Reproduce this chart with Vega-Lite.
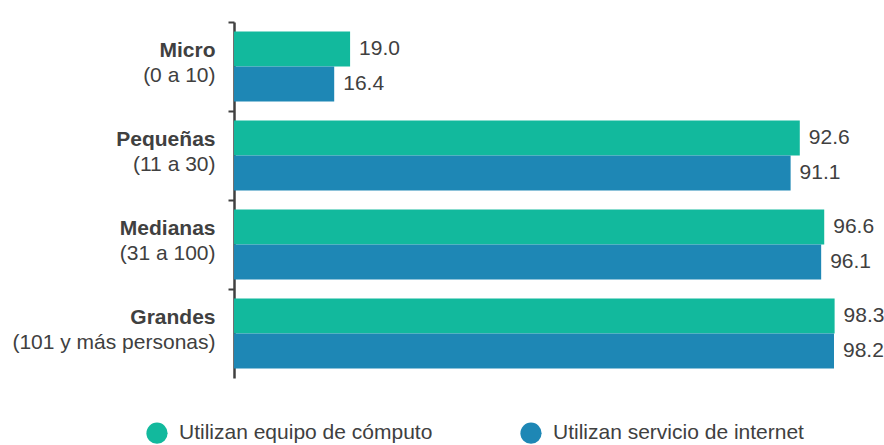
{
  "$schema": "https://vega.github.io/schema/vega-lite/v6.json",
  "width": 611,
  "height": 356,
  "padding": {"left": 11, "top": 21, "right": 5, "bottom": 5},
  "config": {"view": {"stroke": null}, "font": "Liberation Sans"},
  "data": {
    "values": [
      {"tamano": "Micro", "serie": "Utilizan equipo de cómputo", "valor": 19.0},
      {"tamano": "Micro", "serie": "Utilizan servicio de internet", "valor": 16.4},
      {"tamano": "Pequeñas", "serie": "Utilizan equipo de cómputo", "valor": 92.6},
      {"tamano": "Pequeñas", "serie": "Utilizan servicio de internet", "valor": 91.1},
      {"tamano": "Medianas", "serie": "Utilizan equipo de cómputo", "valor": 96.6},
      {"tamano": "Medianas", "serie": "Utilizan servicio de internet", "valor": 96.1},
      {"tamano": "Grandes", "serie": "Utilizan equipo de cómputo", "valor": 98.3},
      {"tamano": "Grandes", "serie": "Utilizan servicio de internet", "valor": 98.2}
    ]
  },
  "layer": [
    {
      "mark": {"type": "bar"},
      "encoding": {
        "y": {
          "field": "tamano", "type": "nominal",
          "sort": ["Micro", "Pequeñas", "Medianas", "Grandes"],
          "scale": {"paddingInner": 0, "paddingOuter": 0},
          "axis": {
            "orient": "left", "title": null, "bandPosition": 0,
            "tickSize": 6, "tickWidth": 2, "tickColor": "#404040",
            "domainColor": "#404040", "domainWidth": 2.5,
            "labelFontWeight": "bold", "labelFontSize": 21, "labelColor": "#404040",
            "labelOffset": -15.5, "labelPadding": 13, "labelLimit": 0
          }
        },
        "yOffset": {
          "field": "serie", "type": "nominal",
          "sort": ["Utilizan equipo de cómputo", "Utilizan servicio de internet"],
          "scale": {"paddingInner": 0, "paddingOuter": 0.271}
        },
        "x": {"field": "valor", "type": "quantitative", "scale": {"domain": [0, 100], "nice": false}, "axis": null},
        "color": {
          "field": "serie", "type": "nominal",
          "scale": {"domain": ["Utilizan equipo de cómputo", "Utilizan servicio de internet"], "range": ["#12b99d", "#1e87b5"]},
          "legend": {
            "orient": "none", "legendX": -88, "legendY": 400, "direction": "horizontal",
            "title": null, "symbolType": "circle", "symbolSize": 450, "symbolStrokeWidth": 0,
            "symbolOpacity": 1, "labelFontSize": 21, "labelColor": "#404040", "labelLimit": 0,
            "columnPadding": 87, "labelOffset": 11
          }
        }
      }
    },
    {
      "mark": {"type": "text", "align": "left", "dx": 9, "fontSize": 21, "color": "#404040"},
      "encoding": {
        "y": {
          "field": "tamano", "type": "nominal",
          "sort": ["Micro", "Pequeñas", "Medianas", "Grandes"],
          "scale": {"paddingInner": 0, "paddingOuter": 0},
          "axis": {
            "orient": "left", "title": null, "ticks": false, "domain": false,
            "tickSize": 6, "labelFontSize": 21, "labelColor": "#404040",
            "labelOffset": 9, "labelPadding": 19, "labelLimit": 0,
            "labelExpr": "datum.value == 'Micro' ? '(0 a 10)' : datum.value == 'Pequeñas' ? '(11 a 30)' : datum.value == 'Medianas' ? '(31 a 100)' : '(101 y más personas)'"
          }
        },
        "yOffset": {
          "field": "serie", "type": "nominal",
          "sort": ["Utilizan equipo de cómputo", "Utilizan servicio de internet"],
          "scale": {"paddingInner": 0, "paddingOuter": 0.271}
        },
        "x": {"field": "valor", "type": "quantitative", "scale": {"domain": [0, 100], "nice": false}, "axis": null},
        "text": {"field": "valor", "type": "quantitative", "format": ".1f"}
      }
    }
  ],
  "resolve": {"axis": {"y": "independent"}}
}
